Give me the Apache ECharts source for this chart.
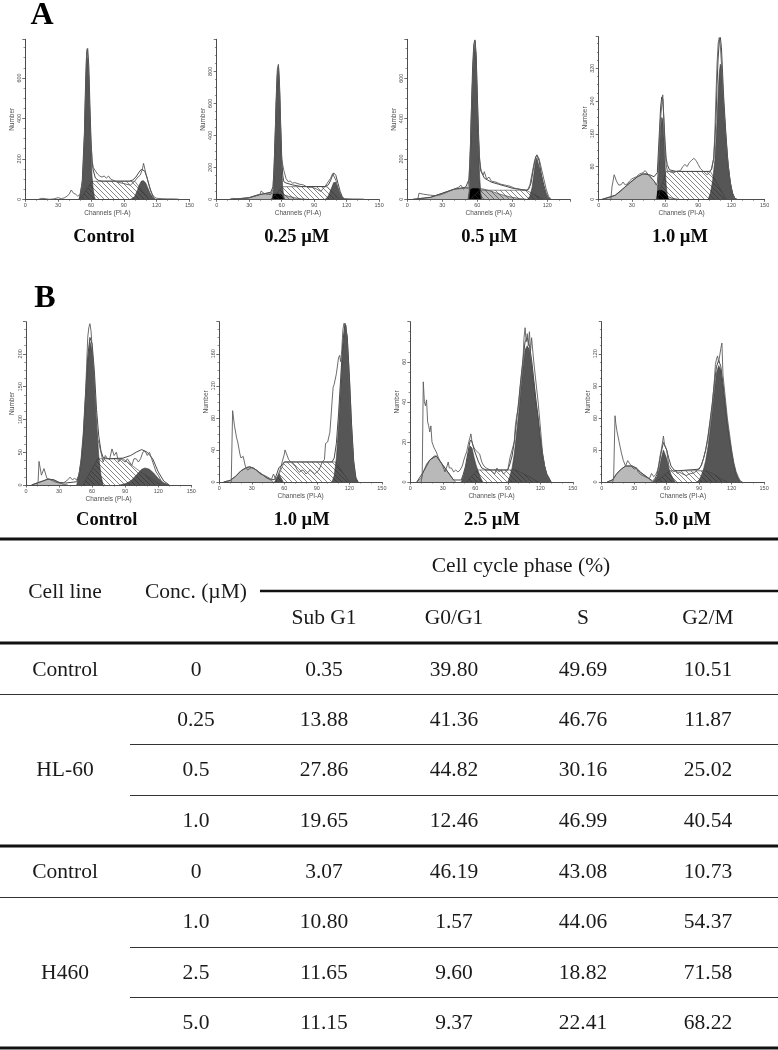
<!DOCTYPE html>
<html><head><meta charset="utf-8">
<style>html,body{margin:0;padding:0;background:#fff}#c{width:778px;height:1050px}</style>
<script src="https://cdn.jsdelivr.net/npm/echarts@6/dist/echarts.min.js"></script>
</head><body><div id="c"></div>
<script>
// ---- Histogram data: [channel, cell count] ----
const a1Trace=[[12,0],[15,5],[18,3],[22,0],[26,2],[30,8],[33,3],[36,8],[38,15],[40,25],[42,46],[44,30],[46,25],[48,15],[50,25],[52,80],[53,150],[54,300],[55,500],[56,730],[56.6,745],[57,740],[58,600],[59,400],[60,280],[61,190],[62,158],[64,140],[66,125],[68,115],[70,110],[72,115],[74,105],[76,115],[78,100],[80,95],[84,85],[88,80],[92,75],[96,70],[100,90],[102,105],[105,120],[107,150],[108,178],[110,130],[112,90],[114,50],[116,25],[118,10],[120,5],[125,3],[130,2],[135,2],[140,1]];
const a1Fit=[[49,0],[50,15],[52,90],[54,330],[55,560],[56,720],[57,745],[58,660],[59,470],[60,290],[61,190],[62,145],[64,105],[67,93],[70,90],[95,90],[98,95],[101,110],[104,135],[106,148],[107,150],[109,140],[111,110],[113,70],[115,35],[117,10],[119,0]];
const a1Sub=[];
const a1G1=[[49,0],[50,8],[52,60],[54,300],[55,520],[56,680],[57,700],[58,600],[59,400],[60,220],[61,110],[62,50],[63,15],[64,0]];
const a1S=[[50,0],[61,89],[100,89],[113,0]];
const a1G2=[[96,0],[98,5],[100,15],[102,40],[104,70],[106,90],[107,94],[108,92],[110,80],[112,55],[114,30],[116,12],[118,0]];
const a1Core=[];

const a2Trace=[[12,0],[14,6],[18,4],[22,5],[26,6],[30,10],[34,20],[38,28],[40,30],[41,52],[44,35],[48,30],[50,30],[52,60],[53,200],[54,400],[55,600],[56,780],[57,843],[58,700],[59,450],[60,250],[61,214],[62,180],[64,130],[66,110],[68,115],[70,100],[72,105],[76,95],[80,90],[84,75],[88,75],[92,65],[96,50],[100,80],[102,100],[105,130],[107,160],[108,172],[110,120],[112,70],[114,30],[116,10],[118,5],[122,3],[126,2],[130,2],[136,1]];
const a2Fit=[[15,0],[30,10],[40,30],[46,38],[50,45],[52,80],[53,200],[54,400],[55,640],[56,810],[57,840],[58,720],[59,480],[60,270],[61,150],[62,110],[64,102],[70,90],[78,80],[100,80],[103,90],[105,115],[107,150],[108,165],[110,150],[112,100],[114,50],[116,15],[118,0]];
const a2Sub=[[15,0],[30,10],[40,30],[46,38],[50,40],[55,35],[60,30],[66,20],[72,10],[78,3],[84,0]];
const a2G1=[[51,0],[52,30],[53,150],[54,360],[55,600],[56,770],[57,800],[58,680],[59,430],[60,200],[61,70],[62,15],[63,0]];
const a2S=[[50,0],[61,79],[102,79],[113,0]];
const a2G2=[[100,0],[102,10],[104,35],[106,70],[108,105],[109,110],[110,105],[112,70],[114,35],[116,12],[118,0]];
const a2Core=[[51.5,0],[52,33],[56,35],[60,30],[61.5,28],[62,0]];

const a3Trace=[[9,0],[10,30],[14,25],[20,20],[24,18],[28,22],[32,30],[36,40],[40,50],[44,60],[46,70],[48,50],[50,60],[52,55],[53,120],[54,250],[55,450],[56,600],[57,750],[58.3,782],[59,650],[60,450],[61,300],[62,200],[63,150],[64,130],[65,120],[66,137],[68,100],[70,110],[72,90],[76,85],[80,75],[84,70],[88,65],[92,55],[96,50],[100,45],[103,45],[105,70],[107,130],[109,190],[111,220],[113,200],[115,150],[117,100],[119,50],[121,15],[123,3]];
const a3Fit=[[5,0],[20,10],[30,30],[40,50],[50,60],[53,100],[54,240],[55,460],[56,660],[57,770],[58,790],[59,720],[60,520],[61,330],[62,190],[63,140],[64,130],[66,105],[72,85],[78,75],[84,65],[90,55],[96,50],[102,45],[104,50],[106,80],[108,150],[110,210],[111,220],[113,190],[115,120],[117,70],[119,30],[121,8],[123,0]];
const a3Sub=[[5,0],[20,10],[30,30],[40,50],[50,55],[56,58],[60,56],[66,50],[72,40],[78,28],[84,18],[90,10],[96,4],[102,0]];
const a3G1=[[52,0],[53,40],[54,180],[55,400],[56,600],[57,720],[58,760],[59,700],[60,500],[61,280],[62,110],[63,30],[64,0]];
const a3S=[[54,0],[62,45],[102,45],[116,0]];
const a3G2=[[103,0],[105,15],[107,60],[109,150],[110,190],[111,205],[112,200],[114,140],[116,85],[118,40],[120,12],[122,0]];
const a3Core=[[53,0],[54,50],[56,55],[60,55],[62,52],[63,0]];

const a4Trace=[[11,0],[12,30],[14,60],[16,45],[18,35],[20,35],[22,42],[24,35],[26,38],[28,45],[30,50],[34,55],[37,62],[40,65],[42,70],[45,60],[48,50],[50,45],[52,35],[53,40],[54,80],[55,150],[56,200],[57.9,255],[58,250],[59,190],[60,120],[61,85],[62,70],[64,68],[66,65],[68,65],[70,68],[74,70],[76,80],[78,85],[80,80],[82,90],[84,95],[86,100],[88,95],[90,85],[92,75],[94,70],[96,65],[98,60],[100,65],[102,75],[104,100],[105,160],[106,250],[107,330],[108,380],[109,395],[110,375],[111,330],[113,230],[115,150],[117,85],[119,40],[121,15],[123,3],[125,0]];
const a4Fit=[[3,0],[15,10],[25,33],[35,55],[40,62],[46,60],[50,55],[53,65],[55,170],[56,225],[57,250],[58,245],[59,190],[60,140],[61,100],[62,85],[64,72],[70,68],[100,68],[102,72],[104,100],[106,190],[107,280],[108,345],[109,385],[110,395],[111,370],[113,250],[115,160],[117,85],[119,40],[121,15],[123,3],[125,0]];
const a4Sub=[[3,0],[10,5],[15,10],[20,20],[25,33],[30,45],[35,55],[40,62],[43,63],[46,58],[50,45],[54,30],[58,18],[62,8],[66,3],[72,0]];
const a4G1=[[52,0],[53,15],[54,60],[55,120],[56,175],[57,200],[58,195],[59,150],[60,85],[61,35],[62,10],[63,0]];
const a4S=[[53,0],[61,68],[101,68],[115,0]];
const a4G2=[[99,0],[101,15],[103,45],[105,95],[107,190],[108,260],[109,310],[110,330],[111,320],[112,270],[114,190],[116,110],[118,60],[120,25],[122,5],[124,0]];
const a4Core=[[52.5,0],[53,20],[56,24],[60,18],[62.5,8],[63,0]];

const b1Trace=[[10,0],[11,5],[11.8,36],[14,15],[15,15],[16.3,25],[19,10],[22,8],[26,5],[30,3],[34,3],[38,8],[40,12],[42,8],[44,10],[46,8],[48,15],[50,40],[52,80],[54,140],[55,180],[56,225],[57,240],[58,246],[59,235],[60,210],[61,180],[62,140],[63,110],[64,90],[65,70],[66,65],[68,50],[70,35],[72,45],[74,40],[76,40],[78,55],[80,45],[82,50],[84,35],[86,40],[90,35],[92,40],[96,30],[98,40],[100,40],[102,35],[104,40],[106,50],[108,52],[110,45],[112,50],[114,40],[116,30],[118,20],[120,15],[123,5],[126,2],[130,0]];
const b1Fit=[[5,0],[15,6],[20,9],[25,8],[30,4],[36,3],[46,5],[48,15],[50,35],[52,72],[54,135],[56,195],[58,225],[60,215],[62,175],[64,115],[66,75],[68,52],[70,42],[75,40],[88,41],[95,45],[100,50],[105,54],[110,50],[115,40],[120,20],[125,6],[130,0]];
const b1Sub=[[5,0],[10,3],[15,6],[20,9],[25,8],[30,4],[34,1],[38,0]];
const b1G1=[[46,0],[48,15],[50,35],[52,70],[54,130],[56,190],[58,218],[60,205],[62,160],[64,95],[66,45],[68,15],[70,0]];
const b1S=[[52,0],[65,40],[88,40],[104,20],[122,0]];
const b1G2=[[85,0],[90,2],[95,6],[100,15],[105,24],[108,26],[112,24],[116,18],[120,10],[125,3],[130,0]];
const b1Core=[];

const b2Trace=[[11,0],[12.3,89],[14,70],[16,55],[17,50],[18,48],[19,35],[20,30],[22,32],[24,20],[26,15],[30,18],[34,15],[38,10],[42,8],[46,5],[48,3],[50,10],[52,3],[54,8],[56,15],[58,25],[60,35],[60.6,40],[62,38],[64,28],[66,25],[68,22],[70,20],[72,15],[74,12],[76,15],[78,14],[80,10],[84,15],[88,10],[92,15],[95,25],[97,28],[98,48],[100,50],[102,62],[103,80],[104,100],[105,118],[106,122],[108,135],[110,155],[111,158],[112,150],[113,165],[114,190],[115,198],[116,200],[117,195],[118,170],[119,140],[120,110],[121,80],[122,60],[123,40],[124,20],[125,8],[127,2]];
const b2Fit=[[4,0],[10,2],[15,7],[20,14],[25,18],[28,19],[32,17],[36,13],[40,9],[44,5],[48,3],[51,3],[53,10],[55,18],[57,20],[60,25],[104,25],[106,30],[108,48],[110,85],[112,130],[114,175],[116,198],[117,198],[118,182],[120,132],[122,72],[124,26],[126,5],[128,0]];
const b2Sub=[[4,0],[10,2],[15,7],[20,14],[25,18],[28,19],[32,17],[36,13],[40,9],[44,5],[48,2],[50,0]];
const b2G1=[[51,0],[53,5],[55,10],[57,5],[59,0]];
const b2S=[[52,0],[60,25],[107,25],[120,0]];
const b2G2=[[104,0],[106,8],[108,30],[110,70],[112,120],[114,170],[116,195],[117,195],[118,180],[120,130],[122,70],[124,25],[126,5],[128,0]];
const b2Core=[];

const b3Trace=[[10,0],[11,3],[12,50],[13,40],[14,38],[15,41],[16,30],[17,28],[18,25],[19,28],[20,20],[22,17],[24,15],[26,12],[28,10],[30,8],[32,5],[34,8],[35,10],[36,7],[38,7],[40,5],[42,6],[44,5],[46,6],[48,8],[50,12],[52,15],[54,20],[55,22],[56,24],[57,20],[58,18],[60,16],[62,15],[64,14],[66,10],[68,8],[70,7],[74,6],[76,5],[78,4],[80,7],[82,5],[84,6],[86,4],[88,5],[90,6],[92,12],[94,16],[95,18],[96,20],[97,28],[98,32],[100,38],[102,50],[104,60],[105,72],[106,77],[107,70],[108,74],[109,68],[110,75],[111,65],[112,72],[114,60],[116,50],[118,40],[120,28],[122,15],[124,8],[126,3],[128,1],[130,0]];
const b3Fit=[[6,0],[12,5],[18,11],[24,13],[28,10],[32,7],[36,4],[40,1],[47,1],[49,4],[51,8],[53,14],[55,20],[56,21],[57,20],[59,16],[61,13],[63,10],[66,7],[70,6],[90,6],[92,9],[94,13],[96,20],[98,30],[100,40],[102,51],[104,61],[106,70],[108,72],[110,68],[112,61],[114,51],[116,41],[118,32],[120,22],[122,14],[124,8],[126,4],[128,2],[130,0]];
const b3Sub=[[6,0],[10,2],[12,5],[15,9],[18,11],[22,13],[24,13],[28,10],[32,7],[36,4],[40,1],[42,0]];
const b3G1=[[47,0],[49,3],[51,7],[53,13],[55,18],[56,18.5],[57,17],[59,12],[61,8],[63,5],[65,2],[67,0]];
const b3S=[[52,0],[62,6],[90,6],[97,6],[105,4],[112,2],[118,0]];
const b3G2=[[90,0],[92,3],[94,7],[96,14],[98,24],[100,34],[102,46],[104,57],[106,66],[108,68],[110,66],[112,59],[114,50],[116,40],[118,32],[120,22],[122,14],[124,8],[126,4],[128,2],[130,0]];
const b3Core=[];

const b4Trace=[[10,0],[11,3],[12.3,62],[13,55],[14,48],[16,38],[18,28],[20,20],[22,15],[24,20],[26,17],[28,14],[30,12],[32,13],[34,9],[36,7],[38,6],[40,5],[42,4],[44,3],[46,8],[48,5],[50,7],[52,12],[54,25],[55,30],[56,36],[57,43],[58,35],[59,36],[60,30],[62,15],[64,12],[66,10],[68,10],[70,8],[72,9],[74,8],[76,7],[78,6],[80,7],[82,8],[84,8],[86,9],[88,11],[90,13],[92,15],[94,22],[96,30],[98,40],[100,55],[102,70],[104,95],[105,110],[106,115],[107,118],[108,112],[110,125],[111,130],[112,100],[114,80],[116,60],[117,60],[118,45],[120,30],[122,18],[124,10],[126,5],[128,1],[130,0]];
const b4Fit=[[5,0],[10,2],[14,8],[18,12],[22,15],[28,15],[32,13],[36,9],[40,6],[44,3],[47,1],[49,3],[51,7],[53,17],[55,28],[57,37],[58,38],[60,30],[62,22],[64,15],[67,11],[70,10.5],[90,12],[92,16],[94,22],[96,30],[98,42],[100,57],[102,73],[104,92],[106,108],[108,114],[110,108],[112,92],[114,73],[116,55],[118,40],[120,27],[122,16],[124,8],[126,3],[128,0]];
const b4Sub=[[5,0],[10,2],[14,8],[18,12],[22,15],[26,15],[28,15],[32,13],[36,9],[40,6],[44,3],[47,0]];
const b4G1=[[47,0],[49,2],[51,5],[53,12],[55,22],[57,30],[58,30],[60,22],[62,13],[64,7],[66,3],[68,0]];
const b4S=[[50,0],[56,5],[63,10.5],[91,10.5],[97,10.5],[104,7],[110,3],[116,0]];
const b4G2=[[88,0],[90,2],[92,6],[94,12],[96,20],[98,32],[100,48],[102,65],[104,85],[106,102],[108,109],[110,105],[112,90],[114,72],[116,55],[118,40],[120,27],[122,16],[124,8],[126,3],[128,0]];
const b4Core=[];

// ---- Text ----
const panelLetters=['A','B'];
const captions=['Control','0.25 µM','0.5 µM','1.0 µM','Control','1.0 µM','2.5 µM','5.0 µM'];
const phaseTitle='Cell cycle phase (%)';
const headCols=['Cell line','Conc. (µM)'];
const phaseCols=['Sub G1','G0/G1','S','G2/M'];
const cellLines=['Control','HL-60','Control','H460'];
const concs=['0','0.25','0.5','1.0','0','1.0','2.5','5.0'];
const subG1=['0.35','13.88','27.86','19.65','3.07','10.80','11.65','11.15'];
const g0g1=['39.80','41.36','44.82','12.46','46.19','1.57','9.60','9.37'];
const sPhase=['49.69','46.76','30.16','46.99','43.08','44.06','18.82','22.41'];
const g2m=['10.51','11.87','25.02','40.54','10.73','54.37','71.58','68.22'];

// ---- Layout (positions and sizes only) ----
const panels=[
 {left:25.3,top:39.3,bottom:199.3,pxPerCh:1.095,xMax:150,yMax:791,yInt:200,d:[a1Sub,a1G1,a1G2,a1Core,a1S,a1Trace,a1Fit],capX:104,capY:237},
 {left:216.7,top:39.3,bottom:199.3,pxPerCh:1.083,xMax:150,yMax:1000,yInt:200,d:[a2Sub,a2G1,a2G2,a2Core,a2S,a2Trace,a2Fit],capX:296.7,capY:237},
 {left:407.3,top:39.3,bottom:199.3,pxPerCh:1.167,xMax:139.5,yMax:793,yInt:200,d:[a3Sub,a3G1,a3G2,a3Core,a3S,a3Trace,a3Fit],capX:489.3,capY:237},
 {left:598.7,top:36.7,bottom:199.3,pxPerCh:1.106,xMax:150,yMax:397,yInt:80,d:[a4Sub,a4G1,a4G2,a4Core,a4S,a4Trace,a4Fit],capX:680,capY:237},
 {left:26,top:321.7,bottom:485,pxPerCh:1.102,xMax:150,yMax:249,yInt:50,d:[b1Sub,b1G1,b1G2,b1Core,b1S,b1Trace,b1Fit],capX:106.7,capY:520},
 {left:219.3,top:321.7,bottom:482,pxPerCh:1.084,xMax:150,yMax:200,yInt:40,d:[b2Sub,b2G1,b2G2,b2Core,b2S,b2Trace,b2Fit],capX:301.7,capY:520},
 {left:410.3,top:321.7,bottom:482,pxPerCh:1.083,xMax:150,yMax:80,yInt:20,d:[b3Sub,b3G1,b3G2,b3Core,b3S,b3Trace,b3Fit],capX:492,capY:520},
 {left:601.7,top:321.7,bottom:482,pxPerCh:1.083,xMax:150,yMax:150,yInt:30,d:[b4Sub,b4G1,b4G2,b4Core,b4S,b4Trace,b4Fit],capX:683,capY:520}
];
const letterPos=[[42,16],[45,299]];
const colX=[65,196,324,454,583,708];
const rowY=[670.5,720.5,770.5,821.5,872.5,922.5,973.5,1023.5];
const cellLineRow=[0,2,4,6];

// hatch pattern for the S phase
function hatch(){
  const n=5,c=document.createElement('canvas');c.width=n;c.height=n;
  const g=c.getContext('2d');g.strokeStyle='rgba(45,45,45,.72)';g.lineWidth=.8;
  g.beginPath();g.moveTo(-1,-1);g.lineTo(n+1,n+1);g.moveTo(-1,n-1);g.lineTo(1,n+1);g.moveTo(n-1,-1);g.lineTo(n+1,1);g.stroke();
  return c;
}
const hatchImg=hatch();
const AX='#4d4d4d', SANS='"Liberation Sans",Arial,sans-serif', SERIF='"Liberation Serif","Times New Roman",serif';

const grid=[],xAxis=[],yAxis=[],series=[],graphic=[];
function area(i,d,color,z,line){
  if(!d.length)return;
  series.push({type:'line',xAxisIndex:i,yAxisIndex:i,data:d,symbol:'none',silent:true,z,animation:false,
    lineStyle:{width:line?.6:0,color:'#3c3c3c'},areaStyle:{color,opacity:1}});
}
panels.forEach((p,i)=>{
  grid.push({left:p.left,top:p.top,width:p.pxPerCh*p.xMax,height:p.bottom-p.top,containLabel:false});
  xAxis.push({type:'value',gridIndex:i,min:0,max:p.xMax,interval:30,name:'Channels (PI-A)',nameLocation:'middle',nameGap:10.5,
    nameTextStyle:{fontSize:6.5,color:AX,fontFamily:SANS},
    axisLine:{show:true,onZero:false,lineStyle:{color:AX,width:1}},
    axisTick:{show:true,length:2.5,lineStyle:{color:AX,width:.8}},
    minorTick:{show:true,splitNumber:3,length:1.5,lineStyle:{color:AX,width:.6}},
    splitLine:{show:false},
    axisLabel:{fontSize:5.5,color:AX,fontFamily:SANS,margin:3.5,showMaxLabel:p.xMax===150,hideOverlap:false}});
  yAxis.push({type:'value',gridIndex:i,min:0,max:p.yMax,interval:p.yInt,name:'Number',nameLocation:'middle',nameGap:5,nameRotate:90,
    nameTextStyle:{fontSize:6.5,color:AX,fontFamily:SANS},
    axisLine:{show:true,onZero:false,lineStyle:{color:AX,width:1}},
    axisTick:{show:true,length:3,lineStyle:{color:AX,width:.8}},
    minorTick:{show:true,splitNumber:4,length:1.8,lineStyle:{color:AX,width:.6}},
    splitLine:{show:false},
    axisLabel:{fontSize:5.5,color:AX,fontFamily:SANS,rotate:90,margin:3,showMaxLabel:false,hideOverlap:false}});
  const [sub,g1,g2,core,s,trace,fit]=p.d;
  area(i,sub,'#b9b9b9',2,true);
  area(i,g1,'#565656',3,true);
  area(i,g2,'#565656',3,true);
  area(i,core,'#000',4,false);
  area(i,s,{image:hatchImg,repeat:'repeat'},5,true);
  series.push({type:'line',xAxisIndex:i,yAxisIndex:i,data:fit,symbol:'none',silent:true,z:6,animation:false,lineStyle:{width:1,color:'#4a4a4a'}});
  series.push({type:'line',xAxisIndex:i,yAxisIndex:i,data:trace,symbol:'none',silent:true,z:7,animation:false,lineStyle:{width:.9,color:'#5c5c5c'}});
  graphic.push({type:'text',silent:true,style:{text:captions[i],x:p.capX,y:p.capY,textAlign:'center',textVerticalAlign:'middle',font:'bold 18.5px '+SERIF,fill:'#0a0a0a'}});
});
panelLetters.forEach((t,i)=>graphic.push({type:'text',silent:true,style:{text:t,x:letterPos[i][0],y:letterPos[i][1],textAlign:'center',textVerticalAlign:'middle',font:'bold 32px '+SERIF,fill:'#000'}}));

// table
function rule(x1,x2,y,w,c){graphic.push({type:'line',silent:true,shape:{x1,y1:y,x2,y2:y},style:{stroke:c||'#111',lineWidth:w}});}
function cell(t,x,y){graphic.push({type:'text',silent:true,style:{text:t,x,y,textAlign:'center',textVerticalAlign:'middle',font:'21.5px '+SERIF,fill:'#1a1a1a'}});}
rule(0,778,539,3);rule(260,778,591,2.5);rule(0,778,643,3);rule(0,778,694.5,1,'#333');
rule(130,778,744.5,1,'#333');rule(130,778,795.5,1,'#333');rule(0,778,846,3);rule(0,778,897.5,1,'#333');
rule(130,778,947.5,1,'#333');rule(130,778,997.5,1,'#333');rule(0,778,1048,3);
cell(phaseTitle,521,566.5);
headCols.forEach((t,i)=>cell(t,colX[i],592.5));
phaseCols.forEach((t,i)=>cell(t,colX[i+2],618.5));
cellLines.forEach((t,i)=>cell(t,colX[0],rowY[cellLineRow[i]]));
[concs,subG1,g0g1,sPhase,g2m].forEach((col,c)=>col.forEach((t,r)=>cell(t,colX[c+1],rowY[r])));

const chart=echarts.init(document.getElementById('c'),null,{renderer:'canvas'});
chart.setOption({animation:false,backgroundColor:'#fff',tooltip:{show:false},grid,xAxis,yAxis,series,graphic});
</script></body></html>
